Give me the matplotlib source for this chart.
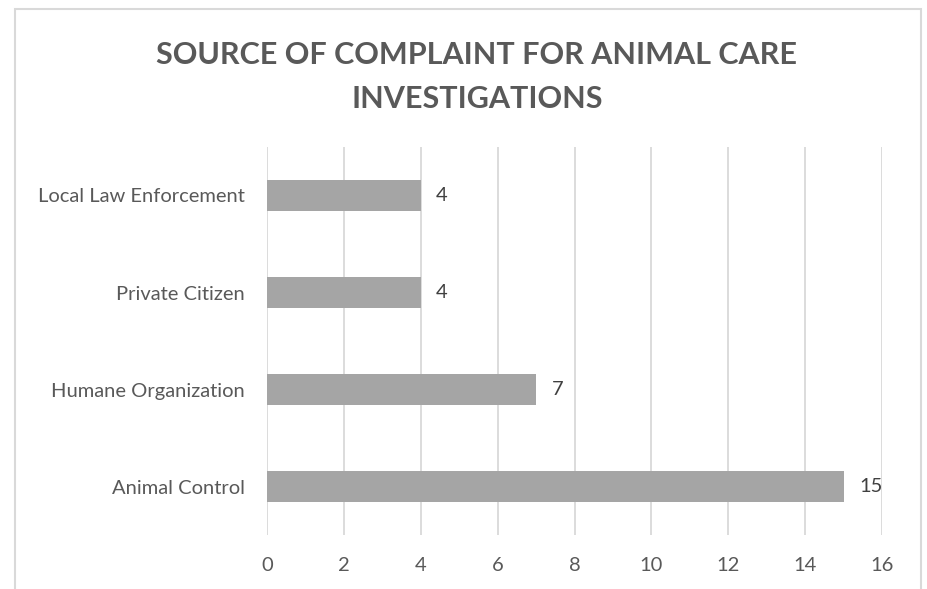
import matplotlib
matplotlib.use("Agg")
import matplotlib.pyplot as plt
from matplotlib.patches import Rectangle

categories = ["Animal Control", "Humane Organization", "Private Citizen", "Local Law Enforcement"]
values = [15, 7, 4, 4]
xticks = [0, 2, 4, 6, 8, 10, 12, 14, 16]
title = "SOURCE OF COMPLAINT FOR ANIMAL CARE\nINVESTIGATIONS"

plt.rcParams['font.family'] = ['Lato', 'DejaVu Sans']
W, H = 927, 589
fig = plt.figure(figsize=(W/100, H/100), dpi=100)
fig.patch.set_facecolor('white')

# chart border
fig.patches.append(Rectangle((15/W, -0.05), (921-15)/W, (589-9)/H + 0.05, transform=fig.transFigure,
                             fill=False, edgecolor='#d9d9d9', linewidth=1.5))

ax = fig.add_axes([267/W, (H-535)/H, (882-267)/W, (535-147)/H])
pos = list(range(len(categories)))
ax.barh(pos, values, height=0.31, color='#a5a5a5', zorder=3)
ax.set_ylim(-0.5, len(categories)-0.5)
ax.set_xlim(0, 16)
ax.set_xticks(xticks)
ax.set_xticklabels([str(t) for t in xticks])
ax.set_yticks(pos)
ax.set_yticklabels(categories)
ax.grid(axis='x', color='#d9d9d9', linewidth=1.3, zorder=0)
for s in ax.spines.values():
    s.set_visible(False)
ax.tick_params(axis='both', length=0, colors='#595959', labelsize=14.5)
ax.tick_params(axis='x', pad=16)
ax.tick_params(axis='y', pad=16)
for p, v in zip(pos, values):
    ax.text(v + 0.4, p, str(v), va='center', ha='left', fontsize=14.5, color='#404040')

fig.text(477/W, 1 - 77/H, title, ha='center', va='center', fontsize=22, fontweight='bold',
         color='#595959', linespacing=1.7)

fig.savefig('out.png', dpi=100, facecolor='white')
